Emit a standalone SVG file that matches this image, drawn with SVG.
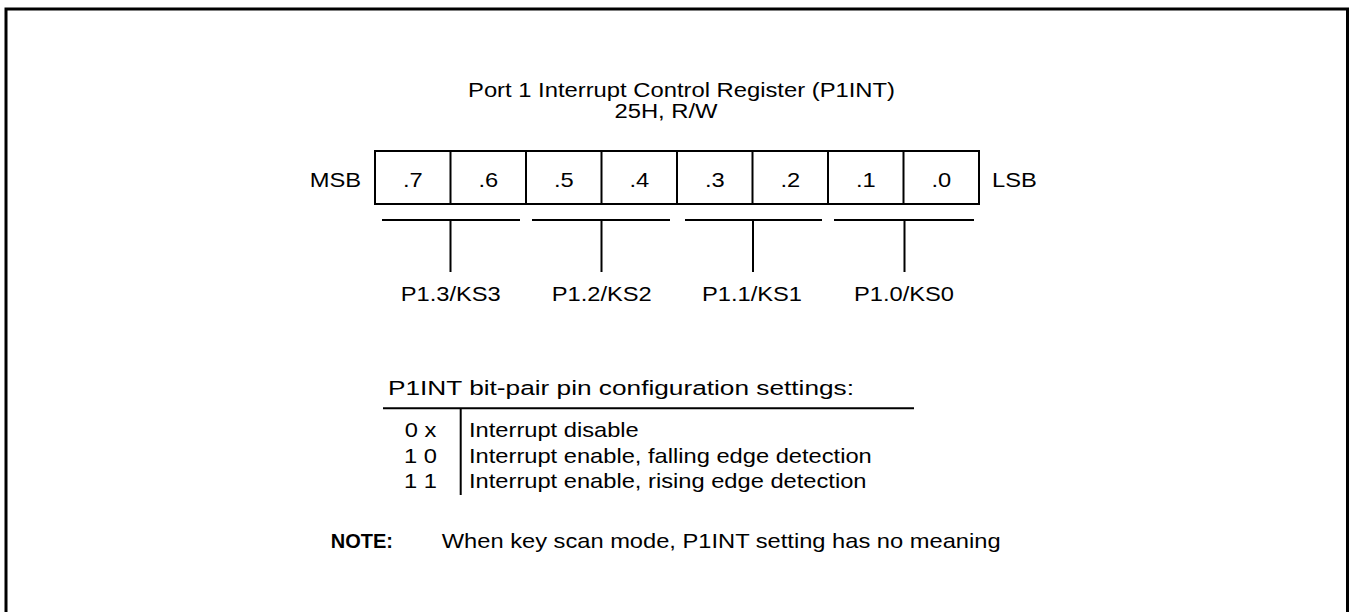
<svg xmlns="http://www.w3.org/2000/svg" width="1349" height="612" viewBox="0 0 1349 612">
<style>
text{font-family:"Liberation Sans",Arial,sans-serif;font-size:20px;fill:#000}
.m{text-anchor:middle}
.e{text-anchor:end}
.b{font-weight:bold}
.ln{stroke:#000;stroke-width:2;fill:none}
</style>
<rect width="1349" height="612" fill="#fff"/>
<rect x="6" y="9" width="1341.5" height="620" fill="none" stroke="#000" stroke-width="3"/>
<g id="title">
<text class="m" transform="translate(681.5 97) scale(1.19 1)">Port 1 Interrupt Control Register (P1INT)</text>
<text class="m" transform="translate(666 118) scale(1.19 1)">25H, R/W</text>
</g>
<g id="register">
<rect class="ln" x="375" y="151" width="604" height="53"/>
<path class="ln" d="M450.5 151V204M526 151V204M601.5 151V204M677 151V204M752.5 151V204M828 151V204M903.5 151V204"/>
<text class="m" transform="translate(412.8 187) scale(1.185 1)">.7</text>
<text class="m" transform="translate(488.3 187) scale(1.185 1)">.6</text>
<text class="m" transform="translate(563.8 187) scale(1.185 1)">.5</text>
<text class="m" transform="translate(639.3 187) scale(1.185 1)">.4</text>
<text class="m" transform="translate(714.8 187) scale(1.185 1)">.3</text>
<text class="m" transform="translate(790.3 187) scale(1.185 1)">.2</text>
<text class="m" transform="translate(865.8 187) scale(1.185 1)">.1</text>
<text class="m" transform="translate(941.3 187) scale(1.185 1)">.0</text>
<text class="e" transform="translate(361 187) scale(1.185 1)">MSB</text>
<text transform="translate(992 187) scale(1.185 1)">LSB</text>
</g>
<g id="connectors">
<path class="ln" d="M382 220H520M532 220H670M685 220H822M834 220H974"/>
<path class="ln" d="M450.5 220V272M601.5 220V272M753 220V272M904.5 220V272"/>
</g>
<g id="pins">
<text class="m" transform="translate(450.7 301) scale(1.185 1)">P1.3/KS3</text>
<text class="m" transform="translate(601.7 301) scale(1.185 1)">P1.2/KS2</text>
<text class="m" transform="translate(752 301) scale(1.185 1)">P1.1/KS1</text>
<text class="m" transform="translate(904 301) scale(1.185 1)">P1.0/KS0</text>
</g>
<g id="table">
<text transform="translate(388 395) scale(1.28 1)" style="font-size:20.5px">P1INT bit-pair pin configuration settings:</text>
<path class="ln" d="M383 408.3H914M460.7 408.3V495"/>
<text class="m" transform="translate(420.5 437) scale(1.185 1)">0  x</text>
<text class="m" transform="translate(420.5 463) scale(1.185 1)">1  0</text>
<text class="m" transform="translate(420.5 488) scale(1.185 1)">1  1</text>
<text transform="translate(469 437) scale(1.185 1)">Interrupt disable</text>
<text transform="translate(469 463) scale(1.185 1)">Interrupt enable, falling edge detection</text>
<text transform="translate(469 488) scale(1.185 1)">Interrupt enable, rising edge detection</text>
</g>
<g id="note">
<text class="e b" x="393" y="548">NOTE:</text>
<text transform="translate(441.7 548) scale(1.185 1)">When key scan mode, P1INT setting has no meaning</text>
</g>
</svg>
